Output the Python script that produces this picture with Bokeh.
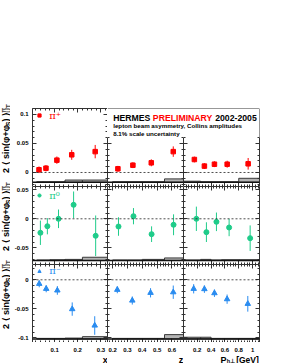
import numpy as np
from bokeh.plotting import figure
from bokeh.models import (Range1d, LinearAxis, SingleIntervalTicker, CustomJSTickFormatter,
                          Span, Label, Legend, LegendItem)
from bokeh.layouts import row, column
from bokeh.embed import file_html
from bokeh.resources import INLINE
from bokeh.core.properties import value

# ---------------- data ----------------
x_bins = [0.023, 0.05, 0.08, 0.145, 0.22, 0.4]
z_bins = [0.2, 0.3, 0.4, 0.55, 0.7]
pt_bins = [0.0, 0.25, 0.4, 0.55, 0.8, 1.5]

x_tick_vals = [0.1, 0.2, 0.3]
x_tick_text = ["0.1", "0.2", "0.3"]
z_tick_vals = [0.2, 0.3, 0.4, 0.5, 0.6]
z_tick_text = ["0.2", "0.3", "0.4", "0.5", "0.6"]
pt_tick_vals = [0.2, 0.4, 0.6, 0.8, 1.0]
pt_tick_text = ["0.2", "0.4", "0.6", "0.8", "1"]

pip_x = [0.033, 0.063, 0.110, 0.174, 0.275]
pip_x_val = [0.0047, 0.0074, 0.0213, 0.0305, 0.036]
pip_x_err = [0.0057, 0.0055, 0.0063, 0.0086, 0.0115]
pip_z = [0.236, 0.337, 0.461, 0.609]
pip_z_val = [0.0064, 0.0126, 0.0167, 0.036]
pip_z_err = [0.005, 0.005, 0.006, 0.009]
pip_pt = [0.159, 0.304, 0.449, 0.633, 0.936]
pip_pt_val = [0.0224, 0.011, 0.0143, 0.0143, 0.015]
pip_pt_err = [0.005, 0.005, 0.005, 0.006, 0.010]
pip_sys_x = [0.001, 0.001, 0.001, 0.004, 0.004]
pip_sys_z = [0.001, 0.001, 0.001, 0.006]
pip_sys_pt = [0.002, 0.001, 0.001, 0.001, 0.007]

pi0_x = [0.039, 0.069, 0.117, 0.182, 0.277]
pi0_x_val = [-0.0241, -0.0128, 0.0, 0.0241, -0.0293]
pi0_x_err = [0.021, 0.014, 0.016, 0.023, 0.035]
pi0_z = [0.240, 0.341, 0.463, 0.611]
pi0_z_val = [-0.0133, 0.0045, -0.0265, -0.0103]
pi0_z_err = [0.016, 0.014, 0.0135, 0.018]
pi0_pt = [0.188, 0.333, 0.478, 0.661, 0.965]
pi0_pt_val = [0.0, -0.023, -0.0052, -0.015, -0.0334]
pi0_pt_err = [0.021, 0.017, 0.016, 0.015, 0.022]
pi0_sys_x = [0.001, 0.001, 0.0015, 0.002, 0.0057]
pi0_sys_z = [0.001, 0.001, 0.002, 0.0045]
pi0_sys_pt = [0.001, 0.002, 0.001, 0.0015, 0.0015]

pim_x = [0.034, 0.064, 0.112, 0.176, 0.273]
pim_x_val = [-0.0069, -0.0155, -0.0183, -0.0505, -0.0788]
pim_x_err = [0.006, 0.006, 0.0075, 0.0115, 0.016]
pim_z = [0.232, 0.333, 0.456, 0.609]
pim_z_val = [-0.0172, -0.0357, -0.0224, -0.0214]
pim_z_err = [0.006, 0.007, 0.008, 0.0115]
pim_pt = [0.149, 0.304, 0.449, 0.632, 0.931]
pim_pt_val = [-0.0155, -0.016, -0.023, -0.0334, -0.0414]
pim_pt_err = [0.008, 0.0065, 0.0065, 0.008, 0.0135]
pim_sys_x = [0.001, 0.001, 0.001, 0.0015, 0.004]
pim_sys_z = [0.001, 0.001, 0.001, 0.0075]
pim_sys_pt = [0.003, 0.003, 0.001, 0.001, 0.001]

sys_base = [-0.017, -0.072, -0.102]

title_parts = ["HERMES", "PRELIMINARY", "2002-2005"]
subtitle_1 = "lepton beam asymmetry, Collins amplitudes"
subtitle_2 = "8.1% scale uncertainty"
legend_labels = ["\u03c0\u207a", "\u03c0\u2070", "\u03c0\u207b"]

# ---------------- style ----------------
FONT = "Liberation Sans"
RED = "#ff0000"
GREEN = "#1fcc8a"
BLUE = "#2a8cf0"
AX = "#333333"

XR = (0.005, 0.328)
ZR = (0.166, 0.678)
PR = (0.002, 1.1)
YR = [(-0.02414, 0.11034), (-0.07879, 0.05569), (-0.1081, 0.02638)]
YR1B = (-0.02414, 0.06034)

FMT = CustomJSTickFormatter(code="""
const v = Math.round(tick*1000)/1000;
if (Math.abs(v) < 1e-9) { return "0"; }
return String(v);
""")
EMPTY = CustomJSTickFormatter(code="return '';")

AW = {'2': .556, ' ': .278, 's': .556, 'i': .278, 'n': .611, '(': .333, ')': .333,
      '+': .584, 'S': .667, 'U': .722, 'T': .611, '\u03c6': .70, '\u27e8': .36, '\u27e9': .36,
      '\u03c0': .6, 'H': .722, 'E': .667, 'R': .722, 'M': .833, 'P': .667, 'L': .611,
      'I': .278, 'N': .722, 'A': .722, 'Y': .667, '0': .556, '5': .556, '-': .333}


def tw(s, size):
    return sum(AW.get(c, .6) for c in s) * size


def panel(xr, yr, fw, fh, left=0, right=0, top=0, bottom=0):
    p = figure(frame_width=fw, frame_height=fh, x_range=Range1d(*xr), y_range=Range1d(*yr),
               output_backend="svg", toolbar_location=None,
               x_axis_location=None, y_axis_location=None,
               min_border_left=left, min_border_right=right,
               min_border_top=top, min_border_bottom=bottom)
    p.outline_line_color = None
    p.grid.visible = False
    return p


def add_axis(p, side, interval, labeled):
    ax = LinearAxis(ticker=SingleIntervalTicker(interval=interval, num_minor_ticks=5))
    ax.major_tick_in = 4
    ax.major_tick_out = 0
    ax.minor_tick_in = 2
    ax.minor_tick_out = 0
    ax.axis_line_color = AX
    ax.axis_line_width = 1
    ax.major_tick_line_color = AX
    ax.minor_tick_line_color = AX
    if labeled:
        ax.formatter = FMT
        ax.major_label_text_font = FONT
        ax.major_label_text_font_style = "bold"
        ax.major_label_text_font_size = "6px"
        ax.major_label_text_color = "black"
        ax.major_label_standoff = 4
    else:
        ax.formatter = EMPTY
        ax.major_label_text_font_size = "0px"
        ax.major_label_standoff = 0
    p.add_layout(ax, side)


def axis_set(p, sides, xint, labeled):
    for s in sides:
        add_axis(p, s, 0.05 if s in ("left", "right") else xint, s in labeled)


def draw(p, xs, ys, es, color, marker, size, bins, sys, base):
    xs = np.asarray(xs)
    ys = np.asarray(ys)
    es = np.asarray(es)
    p.quad(left=bins[:-1], right=bins[1:], bottom=base,
           top=[base + s for s in sys], fill_color="#b4b4b4", line_color="#3a3a3a", line_width=1)
    p.add_layout(Span(location=base, dimension="width", line_color="#111111", line_width=1.5))
    p.add_layout(Span(location=0, dimension="width", line_color="#222222",
                      line_dash="2 2", line_width=0.8))
    p.segment(x0=xs, y0=ys - es, x1=xs, y1=ys + es, line_color=color, line_width=1)
    return p.scatter(xs, ys, marker=marker, size=size, fill_color=color, line_color=color)


def legend(p, r, text, color, y):
    lg = Legend(items=[LegendItem(label=text, renderers=[r])], location=(3.3, y),
                border_line_color=None, background_fill_alpha=0, padding=0, margin=0,
                spacing=0, glyph_width=8, glyph_height=8, label_height=8, label_standoff=6,
                label_text_font="DejaVu Serif", label_text_font_size="10px",
                label_text_color=color)
    p.add_layout(lg)


def txt(p, x, y, text, size, align="left", color="black"):
    # x, y in screen pixels relative to the frame's bottom-left corner
    p.add_layout(Label(x=x, y=y, x_units="screen", y_units="screen", text=text,
                       text_font=FONT, text_font_style="bold", text_font_size=f"{size}px",
                       text_align=align, text_baseline="alphabetic", text_color=color))


def strip(w, h):
    s = figure(frame_width=w, frame_height=h, output_backend="svg", toolbar_location=None,
               x_axis_location=None, y_axis_location=None, min_border=0,
               x_range=Range1d(0, 1), y_range=Range1d(0, 1))
    s.outline_line_color = None
    s.grid.visible = False
    return s


# ---------------- y-axis titles (separate narrow strip) ----------------
lab = strip(10, 363)


def ylabel(p, y0, x0=5.5):
    big, small = 9, 6.5
    pieces = [("2 \u27e8 sin(\u03c6+\u03c6", big, 0), ("S", small, 2.0), (") \u27e9", big, 0)]
    y = y0
    for t, sz, dx in pieces:
        p.add_layout(Label(x=x0 + dx, y=y, x_units="screen", y_units="screen", text=t,
                           angle=np.pi / 2, text_font=FONT, text_font_style="bold",
                           text_font_size=f"{sz}px", text_align="left", text_baseline="middle",
                           text_color="black"))
        y += tw(t, sz)
    p.add_layout(Label(x=x0 + 2.0, y=y, x_units="screen", y_units="screen", text="UT",
                       angle=np.pi / 2, text_font=FONT, text_font_style="bold",
                       text_font_size=f"{small}px", text_align="left", text_baseline="middle"))
    p.add_layout(Label(x=x0 - 2.5, y=y, x_units="screen", y_units="screen", text="\u03c0",
                       angle=np.pi / 2, text_font=FONT, text_font_style="bold",
                       text_font_size=f"{small}px", text_align="left", text_baseline="middle"))


ylabel(lab, 363 - 172.5)
ylabel(lab, 363 - 250.5)
ylabel(lab, 363 - 328.5)

# ---------------- row 1 : pi+ ----------------
f11 = panel(XR, YR[0], 75, 78, left=22, top=108)
axis_set(f11, ("left", "below", "above", "right"), 0.1, ("left",))
r = draw(f11, pip_x, pip_x_val, pip_x_err, RED, "square", 4.5, x_bins, pip_sys_x, sys_base[0])
legend(f11, r, legend_labels[0], RED, 65.45)

tt = panel((0, 1), (0, 1), 152, 29, top=108, right=20)
tt.add_layout(Span(location=1, dimension="width", line_color=AX, line_width=1))
tt.add_layout(Span(location=1, dimension="height", line_color=AX, line_width=1))
tsz = 8.7
tx = 5.7
for i, part in enumerate(title_parts):
    txt(tt, tx, 19.7, part, tsz, color=RED if i == 1 else "black")
    tx += tw(part + " ", tsz)
txt(tt, 5.7, 11.7, subtitle_1, 6.2)
txt(tt, 5.7, 4.0, subtitle_2, 6.2)

f12 = panel(ZR, YR1B, 76, 49)
axis_set(f12, ("left", "below", "right"), 0.1, ())
draw(f12, pip_z, pip_z_val, pip_z_err, RED, "square", 4.5, z_bins, pip_sys_z, sys_base[0])

f13 = panel(PR, YR1B, 76, 49, right=20)
axis_set(f13, ("left", "below", "right"), 0.2, ())
draw(f13, pip_pt, pip_pt_val, pip_pt_err, RED, "square", 4.5, pt_bins, pip_sys_pt, sys_base[0])

# ---------------- row 2 : pi0 ----------------
f21 = panel(XR, YR[1], 75, 78, left=22)
axis_set(f21, ("left", "below", "above", "right"), 0.1, ("left",))
r = draw(f21, pi0_x, pi0_x_val, pi0_x_err, GREEN, "circle", 5, x_bins, pi0_sys_x, sys_base[1])
legend(f21, r, legend_labels[1], GREEN, 63.45)

f22 = panel(ZR, YR[1], 76, 78)
axis_set(f22, ("left", "below", "above", "right"), 0.1, ())
draw(f22, pi0_z, pi0_z_val, pi0_z_err, GREEN, "circle", 5, z_bins, pi0_sys_z, sys_base[1])

f23 = panel(PR, YR[1], 76, 78, right=20)
axis_set(f23, ("left", "below", "above", "right"), 0.2, ())
draw(f23, pi0_pt, pi0_pt_val, pi0_pt_err, GREEN, "circle", 5, pt_bins, pi0_sys_pt, sys_base[1])

# ---------------- row 3 : pi- ----------------
f31 = panel(XR, YR[2], 75, 78, left=22)
axis_set(f31, ("left", "below", "above", "right"), 0.1, ("left",))
r = draw(f31, pim_x, pim_x_val, pim_x_err, BLUE, "triangle", 5.5, x_bins, pim_sys_x, sys_base[2])
legend(f31, r, legend_labels[2], BLUE, 65.75)

f32 = panel(ZR, YR[2], 76, 78)
axis_set(f32, ("left", "below", "above", "right"), 0.1, ())
draw(f32, pim_z, pim_z_val, pim_z_err, BLUE, "triangle", 5.5, z_bins, pim_sys_z, sys_base[2])

f33 = panel(PR, YR[2], 76, 78, right=20)
axis_set(f33, ("left", "below", "above", "right"), 0.2, ())
draw(f33, pim_pt, pim_pt_val, pim_pt_err, BLUE, "triangle", 5.5, pt_bins, pim_sys_pt, sys_base[2])


# ---------------- bottom strips: x tick labels + axis titles ----------------
def bottom(xr, fw, vals, texts, left=0, right=0):
    s = figure(frame_width=fw, frame_height=21, x_range=Range1d(*xr), y_range=Range1d(0, 21),
               output_backend="svg", toolbar_location=None,
               x_axis_location=None, y_axis_location=None,
               min_border_left=left, min_border_right=right, min_border_top=0,
               min_border_bottom=0)
    s.outline_line_color = None
    s.grid.visible = False
    s.text(x=vals, y=[14] * len(vals), text=texts, text_font=value(FONT),
           text_font_style="bold", text_font_size=value("6px"), text_color="black",
           text_align="center", text_baseline="middle")
    return s


b1 = bottom(XR, 75, x_tick_vals, x_tick_text, left=22)
txt(b1, 72.8, 4, "x", 9, align="center")
b2 = bottom(ZR, 76, z_tick_vals, z_tick_text)
txt(b2, 73.6, 4, "z", 9, align="center")
b3 = bottom(PR, 76, pt_tick_vals, pt_tick_text, right=20)
txt(b3, 37, 4, "P", 9)
txt(b3, 43.2, 2.6, "h\u22a5", 5.5)
txt(b3, 75.3, 4, "[GeV]", 8.5, align="right")

grid = column(
    row(f11, column(tt, row(f12, f13))),
    row(f21, f22, f23),
    row(f31, f32, f33),
    row(b1, b2, b3),
)
layout = row(lab, grid)

open("out.html", "w").write(file_html(layout, INLINE))
